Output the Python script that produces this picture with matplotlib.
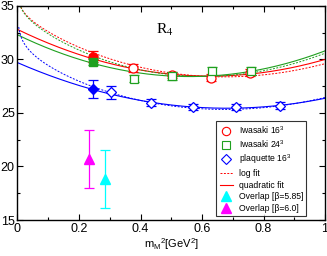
import numpy as np
import matplotlib
matplotlib.use("Agg")
import matplotlib.pyplot as plt
from matplotlib.ticker import MultipleLocator
from matplotlib.lines import Line2D

plt.rcParams["font.family"] = ["Liberation Sans", "DejaVu Sans"]
plt.rcParams["mathtext.fontset"] = "custom"
plt.rcParams["mathtext.rm"] = "Liberation Sans"
plt.rcParams["mathtext.it"] = "Liberation Sans"

# Iwasaki 16^3 (open red circles) + chiral point (filled)
iw16_x = [0.376, 0.502, 0.629, 0.757]
iw16_y = [29.2, 28.55, 28.3, 28.77]
iw16_e = [0.35, 0.3, 0.35, 0.35]
iw16_ch = (0.247, 30.26, 0.5)

# Iwasaki 24^3 (open green squares) + chiral point
iw24_x = [0.378, 0.502, 0.632, 0.759]
iw24_y = [28.2, 28.46, 28.9, 28.9]
iw24_e = [0.35, 0.35, 0.35, 0.35]
iw24_ch = (0.247, 29.74, 0.3)

# plaquette 16^3 (open blue diamonds) + chiral point
plq_x = [0.305, 0.435, 0.570, 0.711, 0.852]
plq_y = [26.93, 25.97, 25.53, 25.53, 25.68]
plq_e = [0.6, 0.35, 0.3, 0.3, 0.3]
plq_ch = (0.247, 27.2, 0.85)

# overlap points
ov585 = (0.285, 18.8, 2.7)
ov60 = (0.231, 20.7, 2.7)

# quadratic fits: a + b x + c x^2
quad_red = [32.8, -13.925, 11.125]
quad_grn = [32.3, -13.92, 12.42]
quad_blu = [29.7, -12.497, 9.167]

# log fits: a + d ln x + b x + c x^2
log_red = [32.734, -0.509, -14.304, 11.174]
log_grn = [32.513, -0.557, -15.372, 13.438]
log_blu = [28.752, -0.783, -12.222, 9.915]

RED = "#ff0000"
GRN = "#1fa01f"
BLU = "#0000ff"
CYA = "#00ffff"
MAG = "#ff00ff"

fig = plt.figure(figsize=(3.27, 2.56), dpi=100)
ax = fig.add_axes([0.0535, 0.1406, 0.9405, 0.8364])

xq = np.linspace(0, 1, 300)
xl = np.linspace(0.004, 1, 400)
for q, l, col in ((quad_red, log_red, RED), (quad_grn, log_grn, GRN), (quad_blu, log_blu, BLU)):
    ax.plot(xq, q[0] + q[1] * xq + q[2] * xq**2, color=col, lw=0.8)
    ax.plot(xl, l[0] + l[1] * np.log(xl) + l[2] * xl + l[3] * xl**2,
            color=col, lw=0.7, ls=(0, (2, 1.5)))

ekw = dict(capsize=3.5, elinewidth=0.9, capthick=0.9, ls="none")
ax.errorbar(iw16_x, iw16_y, yerr=iw16_e, fmt="o", color=RED, mfc="white", ms=6.5, mew=0.9, **ekw)
ax.errorbar(iw24_x, iw24_y, yerr=iw24_e, fmt="s", color=GRN, mfc="white", ms=6, mew=0.9, **ekw)
ax.errorbar(plq_x, plq_y, yerr=plq_e, fmt="D", color=BLU, mfc="white", ms=5.5, mew=0.9, **ekw)
ax.errorbar([iw16_ch[0]], [iw16_ch[1]], yerr=[iw16_ch[2]], fmt="o", color=RED, ms=6.5, **ekw)
ax.errorbar([iw24_ch[0]], [iw24_ch[1]], yerr=[iw24_ch[2]], fmt="s", color=GRN, ms=6, **ekw)
ax.errorbar([plq_ch[0]], [plq_ch[1]], yerr=[plq_ch[2]], fmt="D", color=BLU, ms=5.5, **ekw)
ax.errorbar([ov585[0]], [ov585[1]], yerr=[ov585[2]], fmt="^", color=CYA, ms=7, **ekw)
ax.errorbar([ov60[0]], [ov60[1]], yerr=[ov60[2]], fmt="^", color=MAG, ms=7, **ekw)

ax.set_xlim(0, 1)
ax.set_ylim(15, 35)
ax.xaxis.set_major_locator(MultipleLocator(0.2))
ax.xaxis.set_minor_locator(MultipleLocator(0.1))
ax.yaxis.set_major_locator(MultipleLocator(5))
ax.yaxis.set_minor_locator(MultipleLocator(2.5))
ax.xaxis.set_major_formatter(plt.FuncFormatter(lambda v, p: f"{v:g}"))
ax.tick_params(which="both", direction="in", top=True, right=True, labelsize=9, pad=2)
ax.tick_params(which="major", length=4, width=0.8)
ax.tick_params(which="minor", length=2, width=0.8)
for s in ax.spines.values():
    s.set_linewidth(1.0)

ax.set_xlabel(r"m$_M$$^2$[GeV$^2$]", fontsize=8, labelpad=1)
ax.text(0.48, 32.75, r"R$_4$", fontsize=11, family="Liberation Serif",
        math_fontfamily="stix", ha="center", va="center")

handles = [
    Line2D([], [], marker="o", ls="none", color=RED, mfc="none", ms=6, mew=0.8),
    Line2D([], [], marker="s", ls="none", color=GRN, mfc="none", ms=5.5, mew=0.8),
    Line2D([], [], marker="D", ls="none", color=BLU, mfc="none", ms=5, mew=0.8),
    Line2D([], [], color=RED, lw=0.7, ls=(0, (2, 1.5))),
    Line2D([], [], color=RED, lw=0.8),
    Line2D([], [], marker="^", ls="none", color=CYA, ms=6.5),
    Line2D([], [], marker="^", ls="none", color=MAG, ms=6.5),
]
labels = [r"Iwasaki 16$^3$", r"Iwasaki 24$^3$", r"plaquette 16$^3$", "log fit",
          "quadratic fit", "Overlap [β=5.85]", "Overlap [β=6.0]"]
leg = ax.legend(handles, labels, loc="upper left", bbox_to_anchor=(0.646, 0.464),
                fontsize=6.2, frameon=True, fancybox=False, edgecolor="black",
                handlelength=1.5, handletextpad=0.7, labelspacing=0.3,
                borderpad=0.4, borderaxespad=0)
leg.get_frame().set_linewidth(0.8)

fig.savefig("out.png", dpi=100)
